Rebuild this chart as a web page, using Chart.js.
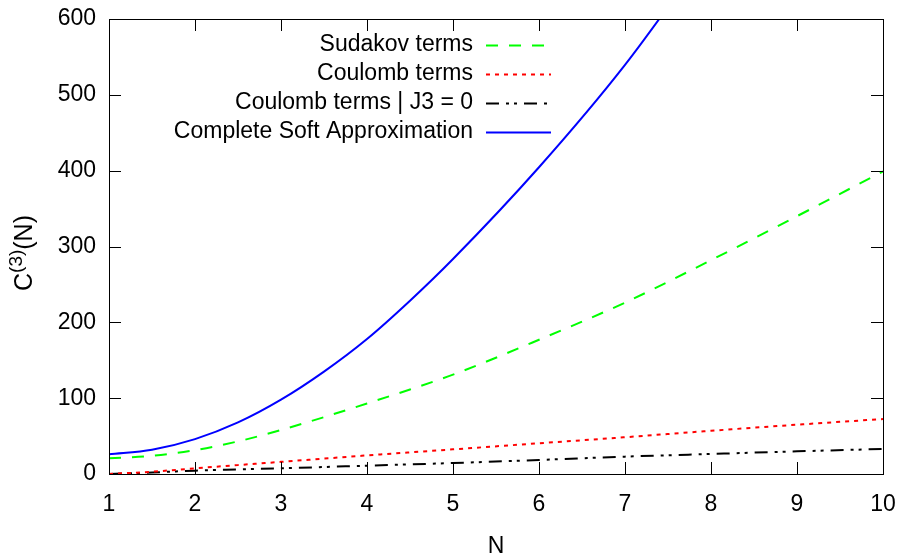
<!DOCTYPE html>
<html>
<head>
<meta charset="utf-8">
<script src="https://cdn.jsdelivr.net/npm/chart.js@4/dist/chart.umd.min.js"></script>
<style>
  html, body { margin: 0; padding: 0; background: #fff; }
  #wrap { width: 901px; height: 554px; position: relative; }
</style>
</head>
<body>
<div id="wrap"><canvas id="c3-chart"></canvas></div>
<script>
// values
var nValues = [1, 1.5, 2, 2.5, 3, 3.5, 4, 4.5, 5, 6, 7, 8, 9, 10];
var sudakov = [20.7, 24, 31.5, 43, 58, 75, 93, 111.5, 131, 177, 226, 282, 340, 399];
var coulomb = [0, 3, 7.5, 11.8, 16, 20.3, 24.5, 28.5, 32.5, 40.5, 48.5, 57, 65, 72.5];
var coulombJ3 = [0, 2, 4.4, 6, 7.5, 9.2, 11, 12.7, 14.5, 18.5, 22.9, 26.4, 29.9, 33];
var completeSoft = [26, 32, 46, 68, 98, 135, 178, 228.5, 283.5, 404.5, 539.5, 695, null, null];
var xTicks = [1, 2, 3, 4, 5, 6, 7, 8, 9, 10];
var yTicks = [0, 100, 200, 300, 400, 500, 600];

var FONT = '"Liberation Sans", Arial, Helvetica, sans-serif';

function toPoints(values) {
    return nValues.map(function (n, i) {
        return { x: n, y: values[i] };
    });
}

// gnuplot look: closed border, inward mirrored ticks, right-aligned key, axis titles
var gnuplotFrame = {
    id: 'gnuplotFrame',
    afterDraw: function (chart) {
        var ctx = chart.ctx;
        var a = chart.chartArea;
        var xs = chart.scales.x;
        var ys = chart.scales.y;
        var tick = 12;

        ctx.save();
        ctx.strokeStyle = '#000';
        ctx.lineWidth = 1;
        ctx.setLineDash([]);
        ctx.strokeRect(Math.round(a.left) + 0.5, Math.round(a.top) + 0.5,
            Math.round(a.right - a.left), Math.round(a.bottom - a.top));

        ctx.beginPath();
        xs.ticks.forEach(function (t) {
            var px = Math.round(xs.getPixelForValue(t.value)) + 0.5;
            ctx.moveTo(px, a.bottom);
            ctx.lineTo(px, a.bottom - tick);
            ctx.moveTo(px, a.top);
            ctx.lineTo(px, a.top + tick);
        });
        ys.ticks.forEach(function (t) {
            var py = Math.round(ys.getPixelForValue(t.value)) + 0.5;
            ctx.moveTo(a.left, py);
            ctx.lineTo(a.left + tick, py);
            ctx.moveTo(a.right, py);
            ctx.lineTo(a.right - tick, py);
        });
        ctx.stroke();

        // key
        ctx.font = '23px ' + FONT;
        ctx.textBaseline = 'middle';
        chart.data.datasets.forEach(function (ds, i) {
            var yy = 45 + i * 29;
            ctx.fillStyle = '#000';
            ctx.textAlign = 'right';
            ctx.fillText(ds.label, 473, yy);
            ctx.beginPath();
            ctx.strokeStyle = ds.borderColor;
            ctx.lineWidth = ds.borderWidth;
            ctx.setLineDash(ds.borderDash || []);
            ctx.moveTo(486, yy + 0.5);
            ctx.lineTo(551, yy + 0.5);
            ctx.stroke();
        });
        ctx.setLineDash([]);

        // x title
        ctx.fillStyle = '#000';
        ctx.textAlign = 'center';
        ctx.textBaseline = 'alphabetic';
        ctx.font = '23px ' + FONT;
        ctx.fillText('N', (a.left + a.right) / 2, 553);

        // y title C^(3)(N)
        var big = '25px ' + FONT;
        var small = '19px ' + FONT;
        ctx.font = big;
        var wC = ctx.measureText('C').width;
        var wN = ctx.measureText('(N)').width;
        ctx.font = small;
        var wS = ctx.measureText('(3)').width;
        var total = wC + wS + wN;
        ctx.translate(32, 253 + total / 2);
        ctx.rotate(-Math.PI / 2);
        ctx.textAlign = 'left';
        ctx.font = big;
        ctx.fillText('C', 0, 0);
        ctx.font = small;
        ctx.fillText('(3)', wC, -10);
        ctx.font = big;
        ctx.fillText('(N)', wC + wS, 0);
        ctx.restore();
    }
};

new Chart(document.getElementById('c3-chart'), {
    type: 'line',
    data: {
        datasets: [{
            label: 'Sudakov terms',
            data: toPoints(sudakov),
            borderColor: '#00ff00',
            borderWidth: 2,
            borderDash: [12, 11]
        }, {
            label: 'Coulomb terms',
            data: toPoints(coulomb),
            borderColor: '#ff0000',
            borderWidth: 2,
            borderDash: [4, 5]
        }, {
            label: 'Coulomb terms | J3 = 0',
            data: toPoints(coulombJ3),
            borderColor: '#000000',
            borderWidth: 2,
            borderDash: [13, 7, 3, 5, 3, 7]
        }, {
            label: 'Complete Soft Approximation',
            data: toPoints(completeSoft),
            borderColor: '#0000ff',
            borderWidth: 2,
            borderDash: []
        }]
    },
    options: {
        responsive: true,
        maintainAspectRatio: false,
        animation: false,
        devicePixelRatio: 1,
        layout: {
            padding: { left: 0, right: 18, top: 19, bottom: 0 }
        },
        elements: {
            point: { radius: 0 },
            line: { cubicInterpolationMode: 'monotone', fill: false }
        },
        scales: {
            x: {
                type: 'linear',
                min: 1,
                max: 10,
                afterBuildTicks: function (scale) {
                    scale.ticks = xTicks.map(function (v) { return { value: v }; });
                },
                afterFit: function (scale) {
                    scale.height = 80;
                    scale.paddingLeft = 0;
                    scale.paddingRight = 0;
                },
                grid: { display: false, drawTicks: false },
                border: { display: false },
                ticks: {
                    color: '#000',
                    padding: 17,
                    maxRotation: 0,
                    font: { family: FONT, size: 23 }
                }
            },
            y: {
                type: 'linear',
                min: 0,
                max: 600,
                afterBuildTicks: function (scale) {
                    scale.ticks = yTicks.map(function (v) { return { value: v }; });
                },
                afterFit: function (scale) {
                    scale.width = 109;
                    scale.paddingTop = 0;
                    scale.paddingBottom = 0;
                },
                grid: { display: false, drawTicks: false },
                border: { display: false },
                ticks: {
                    color: '#000',
                    padding: 13,
                    font: { family: FONT, size: 23 }
                }
            }
        },
        plugins: {
            legend: { display: false },
            tooltip: { enabled: false }
        }
    },
    plugins: [gnuplotFrame]
});
</script>
</body>
</html>
